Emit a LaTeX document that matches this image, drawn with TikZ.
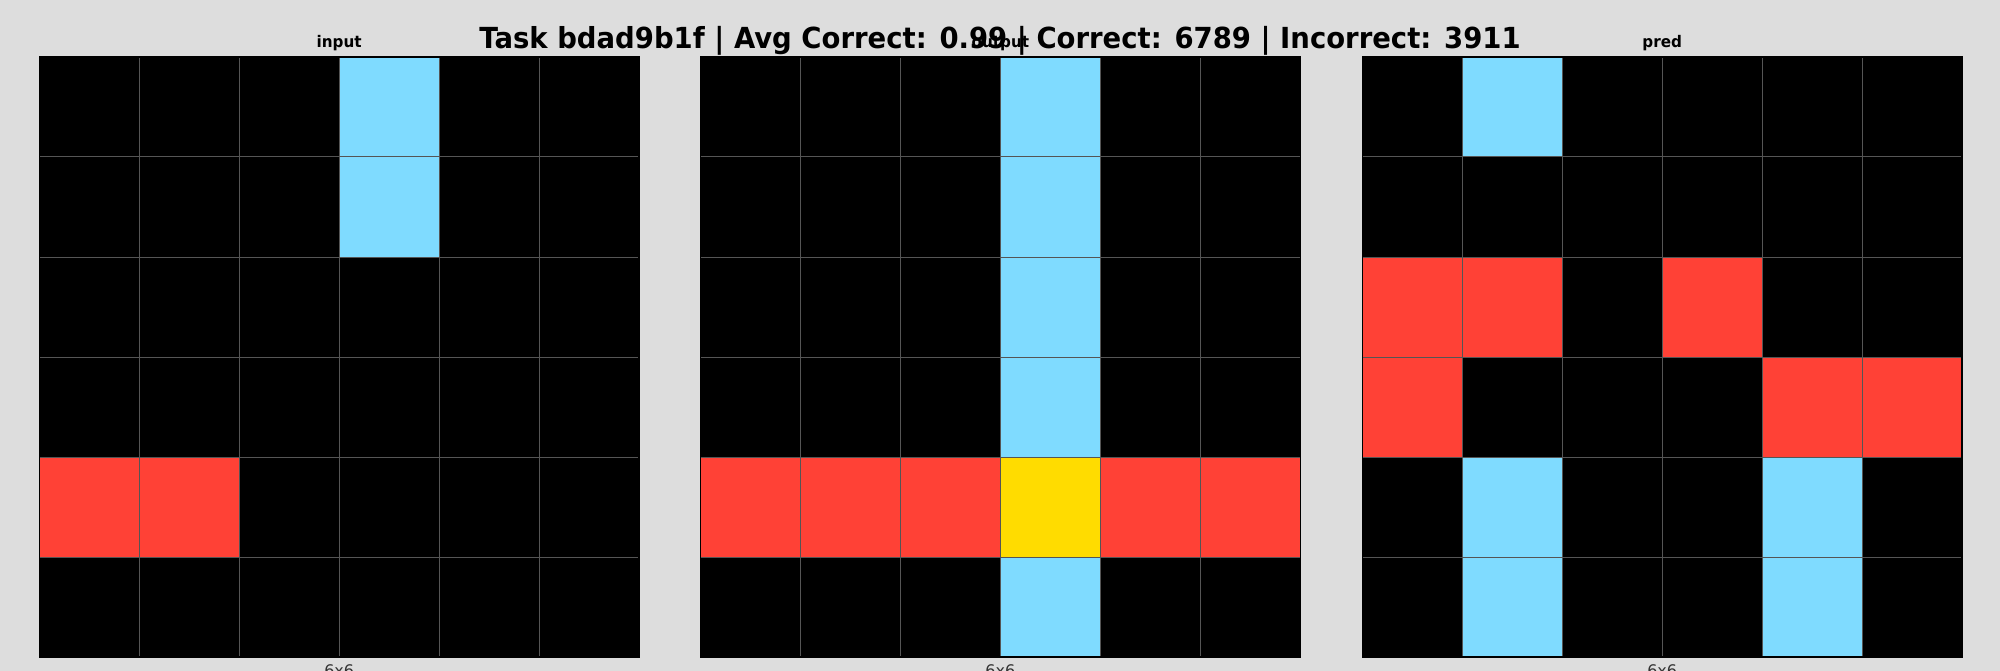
\documentclass[tikz,border=0pt]{standalone}
\usepackage{fontspec}
\setmainfont{DejaVu Sans}
\definecolor{bg}{HTML}{DDDDDD}
\definecolor{arcK}{HTML}{000000}
\definecolor{arcC}{HTML}{7FDBFF}
\definecolor{arcR}{HTML}{FF4136}
\definecolor{arcY}{HTML}{FFDC00}
\definecolor{gridln}{HTML}{555555}
\definecolor{lbl}{HTML}{333333}
\tikzset{
  cellbox/.style={draw=gridln, line width=1pt},
  subttl/.style={font=\bfseries\fontsize{16}{18}\selectfont, anchor=base},
  dimlbl/.style={font=\fontsize{16}{18}\selectfont, text=lbl, anchor=base},
}
\newcommand{\arcgrid}[3]{% x0, name, rows
  \foreach \row [count=\r from 0] in {#3} {
    \foreach \c [count=\k from 0] in \row {
      \fill[arc\c] ({#1+\k*99.9},{57+\r*100}) rectangle ++(99.9,100);
    }
  }
  \foreach \i in {1,...,5} {
    \draw[gridln, line width=1pt] ({#1+\i*99.9},57) -- ({#1+\i*99.9},657);
    \draw[gridln, line width=1pt] (#1,{57+\i*100}) -- ({#1+599.4},{57+\i*100});
  }
  \draw[black, line width=1.2pt] (#1,57) rectangle ({#1+599.4},657);
}
\begin{document}
\begin{tikzpicture}[x=1pt,y=-1pt]
\fill[bg] (0,0) rectangle (2000,671);
\useasboundingbox (0,0) rectangle (2000,671);
\arcgrid{39.5}{g1}{{K,K,K,C,K,K},{K,K,K,C,K,K},{K,K,K,K,K,K},{K,K,K,K,K,K},{R,R,K,K,K,K},{K,K,K,K,K,K}}
\arcgrid{700.7}{g2}{{K,K,K,C,K,K},{K,K,K,C,K,K},{K,K,K,C,K,K},{K,K,K,C,K,K},{R,R,R,Y,R,R},{K,K,K,C,K,K}}
\arcgrid{1362.5}{g3}{{K,C,K,K,K,K},{K,K,K,K,K,K},{R,R,K,R,K,K},{R,K,K,K,R,R},{K,C,K,K,C,K},{K,C,K,K,C,K}}
\node[subttl] (t1) at (339.2,48) {\scalebox{0.95}[1]{input}};
\node[subttl] (t2) at (1000.4,48) {\scalebox{0.95}[1]{output}};
\node[subttl] (t3) at (1662.2,48) {\scalebox{0.95}[1]{pred}};
\node[font=\bfseries\fontsize{29}{34}\selectfont, anchor=base] (title) at (1000,49) {\scalebox{0.948}[1]{Task bdad9b1f | Avg Correct: 0.99 | Correct: 6789 | Incorrect: 3911}};
\node[dimlbl] (d1) at (339.2,676) {6x6};
\node[dimlbl] (d2) at (1000.4,676) {6x6};
\node[dimlbl] (d3) at (1662.2,676) {6x6};
\end{tikzpicture}
\end{document}
